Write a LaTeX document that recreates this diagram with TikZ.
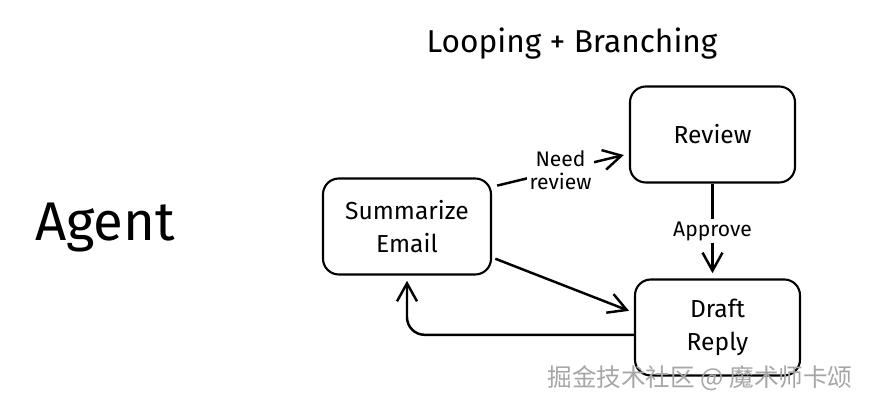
\documentclass[tikz,border=0pt]{standalone}
\usepackage{fontspec}
\setmainfont{Fira Sans}
\newfontfamily\cjk{Noto Sans CJK SC}
\usetikzlibrary{arrows.meta,positioning}

\begin{document}
\begin{tikzpicture}[
  flowbox/.style={draw, rounded corners=9pt, minimum width=3.3cm,
               minimum height=1.92cm, align=center,
               font=\fontsize{14}{19}\selectfont, line width=1.2pt},
  lbl/.style={fill=white, align=center, font=\fontsize{12}{13}\selectfont, inner sep=1.5pt},
  arr/.style={-{Straight Barb[length=3.6mm,width=4mm]}, line width=1.4pt, shorten >=3pt},
  font=\small
]
\useasboundingbox (0,0) rectangle (17.4,8.12);

\node[font=\fontsize{18}{20}\selectfont] (title) at (11.44,7.24) {Looping + Branching};
\node[font=\fontsize{31}{34}\selectfont] (agent) at (2.1,3.56)  {Agent};

\node[flowbox, minimum width=3.36cm] (sum) at (8.14,3.59)  {Summarize\\Email};
\node[flowbox] (rev)   at (14.25,5.43) {Review};
\node[flowbox] (draft) at (14.35,1.57) {Draft\\Reply};

\draw[arr, shorten <=3pt] (sum.25) -- node[lbl]{Need\\review} (rev.193);
\draw[arr] (rev.south) -- node[lbl]{Approve} (rev.south |- draft.north);
\draw[arr, shorten <=2pt] (sum.-20) -- (draft.170);
\draw[arr, rounded corners=10pt] (draft.185) -| (sum.south);

% watermark
\node[font=\cjk\fontsize{14}{16}\selectfont, text=gray!70] (mark) at (14.0,0.56) {掘金技术社区 @ 魔术师卡颂};

\end{tikzpicture}
\end{document}
